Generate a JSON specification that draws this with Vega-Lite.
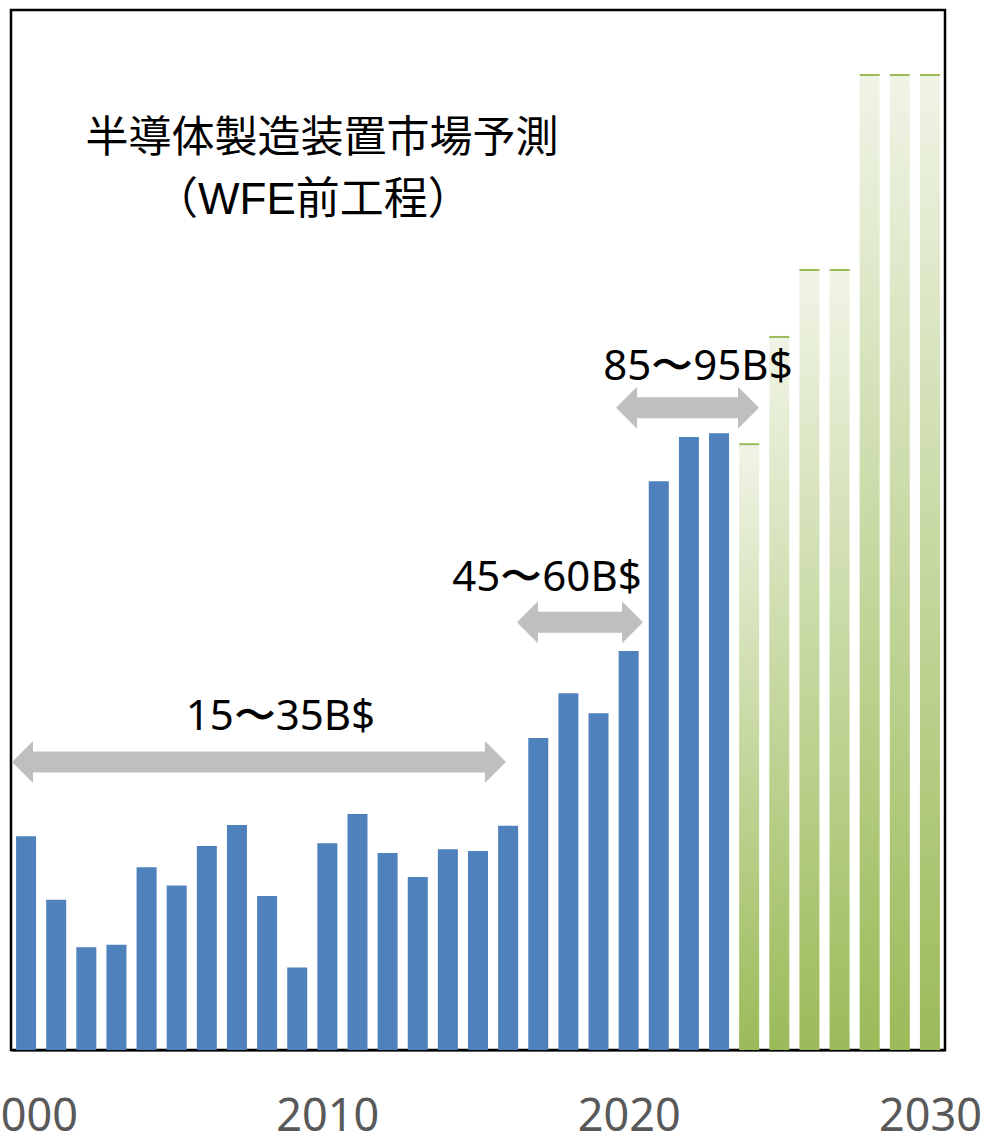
{
  "$schema": "https://vega.github.io/schema/vega-lite/v6.json",
  "autosize": {"type": "none"},
  "width": 934,
  "height": 1040,
  "padding": {"left": 11, "top": 10, "right": 39, "bottom": 86},
  "background": "white",
  "config": {
    "view": {"stroke": "#000000", "strokeWidth": 2.5},
    "font": "Noto Sans CJK JP"
  },
  "datasets": {
    "bars": [
      {"year": 2000, "value": 32.9, "type": "actual"},
      {"year": 2001, "value": 23.1, "type": "actual"},
      {"year": 2002, "value": 15.8, "type": "actual"},
      {"year": 2003, "value": 16.2, "type": "actual"},
      {"year": 2004, "value": 28.1, "type": "actual"},
      {"year": 2005, "value": 25.3, "type": "actual"},
      {"year": 2006, "value": 31.4, "type": "actual"},
      {"year": 2007, "value": 34.6, "type": "actual"},
      {"year": 2008, "value": 23.7, "type": "actual"},
      {"year": 2009, "value": 12.7, "type": "actual"},
      {"year": 2010, "value": 31.8, "type": "actual"},
      {"year": 2011, "value": 36.3, "type": "actual"},
      {"year": 2012, "value": 30.3, "type": "actual"},
      {"year": 2013, "value": 26.6, "type": "actual"},
      {"year": 2014, "value": 30.9, "type": "actual"},
      {"year": 2015, "value": 30.6, "type": "actual"},
      {"year": 2016, "value": 34.5, "type": "actual"},
      {"year": 2017, "value": 48.0, "type": "actual"},
      {"year": 2018, "value": 54.9, "type": "actual"},
      {"year": 2019, "value": 51.8, "type": "actual"},
      {"year": 2020, "value": 61.4, "type": "actual"},
      {"year": 2021, "value": 87.5, "type": "actual"},
      {"year": 2022, "value": 94.3, "type": "actual"},
      {"year": 2023, "value": 94.9, "type": "actual"},
      {"year": 2024, "value": 93.2, "type": "forecast"},
      {"year": 2025, "value": 109.7, "type": "forecast"},
      {"year": 2026, "value": 120.0, "type": "forecast"},
      {"year": 2027, "value": 120.0, "type": "forecast"},
      {"year": 2028, "value": 150.0, "type": "forecast"},
      {"year": 2029, "value": 150.0, "type": "forecast"},
      {"year": 2030, "value": 150.0, "type": "forecast"}
    ],
    "arrows": [
      {"label": "15〜35B$", "x1": 2000.23, "x2": 2015.23, "y": 44.3, "tx": 2008.44, "ty": 51.2},
      {"label": "45〜60B$", "x1": 2016.99, "x2": 2019.78, "y": 65.8, "tx": 2017.29, "ty": 72.6},
      {"label": "85〜95B$", "x1": 2020.28, "x2": 2023.63, "y": 98.8, "tx": 2022.3, "ty": 105.1}
    ],
    "titles": [
      {"text": "半導体製造装置市場予測", "x": 2009.82, "y": 140.1, "line": 1},
      {"text": "（WFE前工程）", "x": 2009.52, "y": 130.6, "line": 2}
    ]
  },
  "layer": [
    {
      "data": {"name": "bars"},
      "transform": [{"filter": "datum.type === 'actual'"}],
      "mark": {"type": "bar", "width": 20, "color": "#4f81bd"},
      "encoding": {
        "x": {
          "field": "year", "type": "quantitative",
          "scale": {"domain": [1999.5, 2030.5], "nice": false, "zero": false, "padding": 0},
          "axis": {
            "values": [2000, 2010, 2020, 2030], "format": "d", "title": null,
            "grid": false, "ticks": false, "labelPadding": 44,
            "labelFontSize": 45, "labelFont": "Noto Sans", "labelColor": "#595959",
            "domainColor": "#000000", "domainWidth": 2, "labelFlush": false, "labelOverlap": false
          }
        },
        "y": {
          "field": "value", "type": "quantitative",
          "scale": {"domain": [0, 160], "nice": false, "padding": 0},
          "axis": null
        }
      }
    },
    {
      "data": {"name": "bars"},
      "transform": [{"filter": "datum.type === 'forecast'"}],
      "mark": {
        "type": "bar", "width": 20,
        "color": {
          "gradient": "linear", "x1": 0, "y1": 0, "x2": 0, "y2": 1,
          "stops": [
            {"offset": 0, "color": "#f0f4e6"},
            {"offset": 1, "color": "#9bbb59"}
          ]
        }
      },
      "encoding": {
        "x": {"field": "year", "type": "quantitative"},
        "y": {"field": "value", "type": "quantitative"}
      }
    },
    {
      "data": {"name": "bars"},
      "transform": [{"filter": "datum.type === 'forecast'"}],
      "mark": {"type": "tick", "orient": "horizontal", "size": 20, "thickness": 2, "color": "#9bbb59", "opacity": 1},
      "encoding": {
        "x": {"field": "year", "type": "quantitative"},
        "y": {"field": "value", "type": "quantitative"}
      }
    },
    {
      "data": {"name": "arrows"},
      "mark": {"type": "rule", "color": "#bfbfbf", "strokeWidth": 21, "strokeCap": "butt"},
      "encoding": {
        "x": {"field": "x1", "type": "quantitative"},
        "x2": {"field": "x2"},
        "y": {"field": "y", "type": "quantitative"}
      }
    },
    {
      "data": {"name": "arrows"},
      "mark": {"type": "point", "shape": "M0,-1L-1,0L0,1Z", "filled": true, "size": 1764, "color": "#bfbfbf", "opacity": 1},
      "encoding": {
        "x": {"field": "x1", "type": "quantitative"},
        "y": {"field": "y", "type": "quantitative"}
      }
    },
    {
      "data": {"name": "arrows"},
      "mark": {"type": "point", "shape": "M0,-1L1,0L0,1Z", "filled": true, "size": 1764, "color": "#bfbfbf", "opacity": 1},
      "encoding": {
        "x": {"field": "x2", "type": "quantitative"},
        "y": {"field": "y", "type": "quantitative"}
      }
    },
    {
      "data": {"name": "arrows"},
      "mark": {"type": "text", "font": "Noto Sans", "fontSize": 42, "color": "#000000", "align": "center", "baseline": "middle"},
      "encoding": {
        "x": {"field": "tx", "type": "quantitative"},
        "y": {"field": "ty", "type": "quantitative"},
        "text": {"field": "label"}
      }
    },
    {
      "data": {"name": "titles"},
      "transform": [{"filter": "datum.line === 1"}],
      "mark": {"type": "text", "font": "Noto Sans CJK JP", "fontSize": 43, "color": "#000000", "align": "center", "baseline": "middle"},
      "encoding": {
        "x": {"field": "x", "type": "quantitative"},
        "y": {"field": "y", "type": "quantitative"},
        "text": {"field": "text"}
      }
    },
    {
      "data": {"name": "titles"},
      "transform": [{"filter": "datum.line === 2"}],
      "mark": {"type": "text", "font": "Liberation Sans, Noto Sans CJK JP", "fontSize": 44, "color": "#000000", "align": "center", "baseline": "middle"},
      "encoding": {
        "x": {"field": "x", "type": "quantitative"},
        "y": {"field": "y", "type": "quantitative"},
        "text": {"field": "text"}
      }
    }
  ]
}
